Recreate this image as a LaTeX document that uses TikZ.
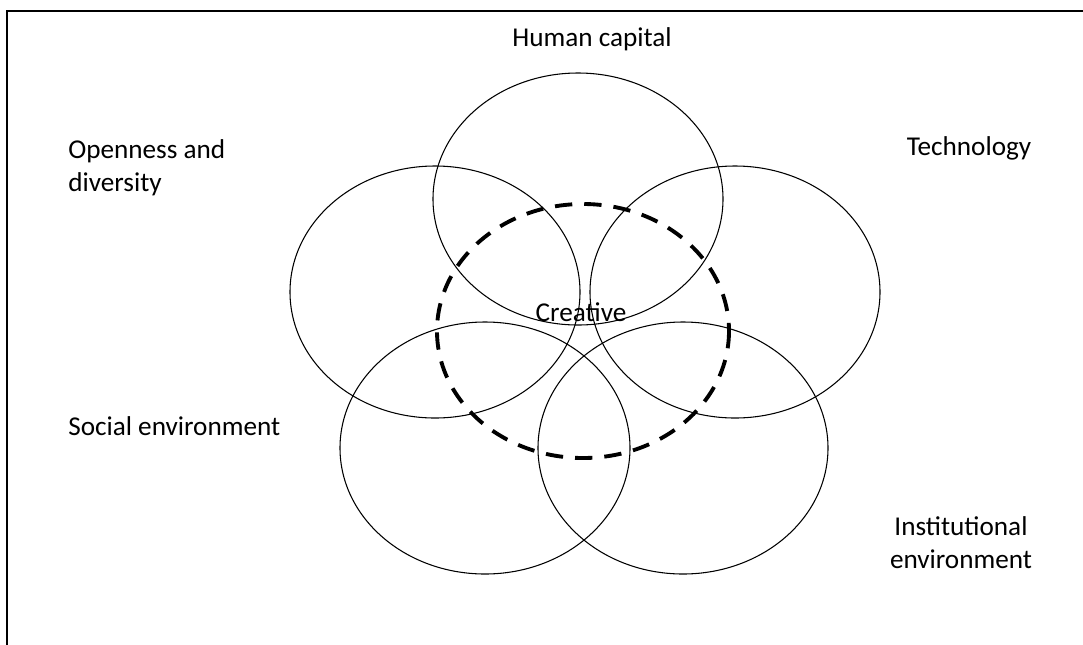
\documentclass[tikz,border=0pt]{standalone}
\usepackage{fontspec}
\setmainfont{Carlito}
\usetikzlibrary{positioning}

\begin{document}
\begin{tikzpicture}[x=0.75pt,y=-0.75pt,
  factor/.style={draw=black,line width=0.8pt},
  core/.style={draw=black,line width=2.9pt,dash pattern=on 13pt off 9pt},
  lbl/.style={font=\fontsize{20.4}{24.9}\selectfont,inner sep=0pt}]
\useasboundingbox (0,0) rectangle (1083,644);
\clip (0,0) rectangle (1083,644);
\draw[line width=1.6pt] (7,11) rectangle (1100,700);
% five overlapping factors
\foreach \x/\y in {578/199,435/292,735/292,485/448,683/448} {
  \draw[factor] (\x,\y) ellipse [x radius=145, y radius=126];
}
\draw[core] (583,331) ellipse [x radius=146, y radius=127];
\node[lbl] (hc) at (592,39) {Human capital};
\node[lbl,anchor=west,align=left] (od) at (68,168) {Openness and\\diversity};
\node[lbl] (te) at (969,148) {Technology};
\node[lbl] (cr) at (581,312) {Creative};
\node[lbl,anchor=west] (se) at (68,426) {Social environment};
\node[lbl,align=center] (ie) at (961,543) {Institutional\\environment};
\end{tikzpicture}
\end{document}
